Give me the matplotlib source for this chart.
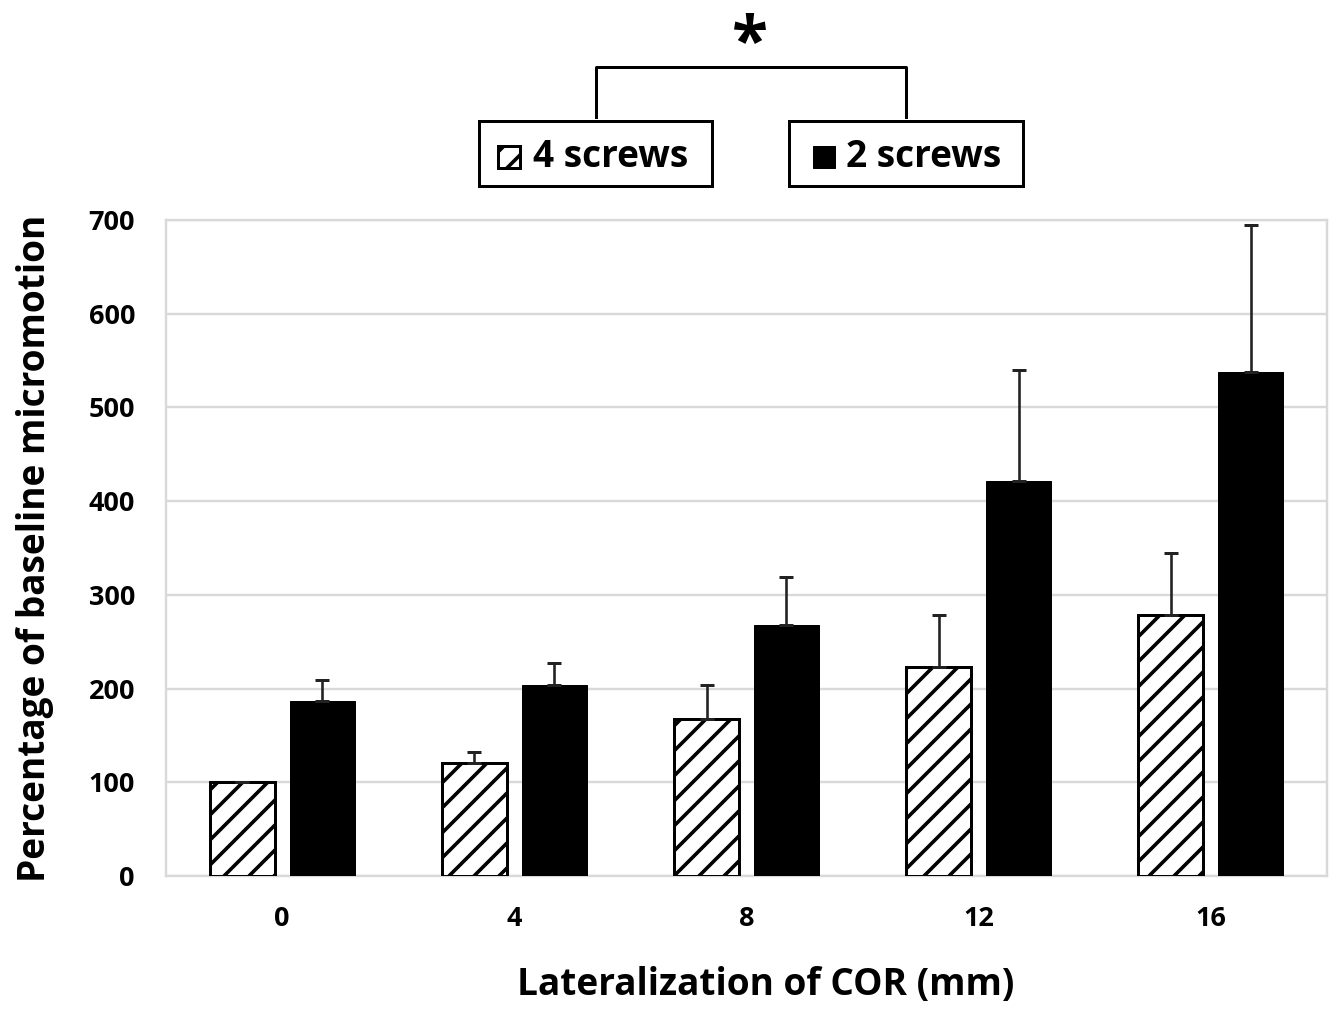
import matplotlib
matplotlib.use('Agg')
import matplotlib.pyplot as plt
import numpy as np
from matplotlib.patches import Rectangle
from matplotlib.lines import Line2D

# Data
categories = ['0', '4', '8', '12', '16']
four_screws = [100, 121, 167, 223, 278]
four_screws_err = [0, 11, 37, 56, 67]
two_screws = [187, 204, 268, 421, 538]
two_screws_err = [22, 23, 51, 119, 157]

# hatch cell is one inch, so a lower dpi gives the denser stripes of the original
DPI = 75
W, H = 1334, 1015

def pt(px):
    # pixels -> points at this dpi
    return px * 72 / DPI

plt.rcParams['font.family'] = ['Open Sans', 'DejaVu Sans']
plt.rcParams['hatch.linewidth'] = pt(3.6)

fig = plt.figure(figsize=(W / DPI, H / DPI), dpi=DPI)
ax = fig.add_axes([166 / W, 1 - 876 / H, (1327 - 166) / W, (876 - 220) / H])

x = np.arange(len(categories))
width = 0.28
offset = 0.172

ax.bar(x - offset, four_screws, width, color='white', edgecolor='black',
       linewidth=pt(3), hatch='/', zorder=3)
ax.bar(x + offset, two_screws, width, color='black', edgecolor='black',
       linewidth=pt(1), zorder=3)

# plus-only error bars, as in Excel
err_kw = dict(fmt='none', ecolor='#222222', elinewidth=pt(2.6), capsize=pt(7),
              capthick=pt(3), zorder=4)
ax.errorbar(x - offset, four_screws, yerr=[np.zeros(5), four_screws_err], **err_kw)
ax.errorbar(x + offset, two_screws, yerr=[np.zeros(5), two_screws_err], **err_kw)

ax.set_xlim(-0.5, 4.5)
ax.set_ylim(0, 700)
ax.set_yticks(range(0, 701, 100))
ax.set_xticks(x)
ax.set_xticklabels(categories)
ax.tick_params(axis='both', length=0, labelsize=pt(27))
ax.tick_params(axis='y', pad=pt(31))
ax.tick_params(axis='x', pad=pt(30))
for lab in ax.get_xticklabels() + ax.get_yticklabels():
    lab.set_fontweight('bold')
ax.grid(axis='y', color='#d9d9d9', linewidth=pt(2.4), zorder=0)
for s in ax.spines.values():
    s.set_color('#d9d9d9')
    s.set_linewidth(pt(2.4))

ax.set_ylabel('Percentage of baseline micromotion', fontsize=pt(37), fontweight='bold')
ax.yaxis.set_label_coords((54 - 166) / (1327 - 166), 0.5)
ax.set_xlabel('Lateralization of COR (mm)', fontsize=pt(37), fontweight='bold')
ax.xaxis.set_label_coords((766 - 166) / (1327 - 166), (876 - 966) / (876 - 220))

# legend boxes with significance bracket, placed in figure pixels
def fx(px):
    return px / W

def fy(py):
    return 1 - py / H

boxes = [(479, 712, '4 screws', True), (789, 1023, '2 screws', False)]
for x0, x1, label, hatched in boxes:
    fig.patches.append(Rectangle((fx(x0), fy(186)), fx(x1) - fx(x0), fy(121) - fy(186),
                                 transform=fig.transFigure, facecolor='white',
                                 edgecolor='black', linewidth=pt(3)))
    if hatched:
        fig.patches.append(Rectangle((fx(498), fy(168)), fx(22), fy(146) - fy(168),
                                     transform=fig.transFigure, facecolor='white',
                                     edgecolor='black', linewidth=pt(3), hatch='/'))
        tx = 533
    else:
        fig.patches.append(Rectangle((fx(813), fy(168)), fx(22), fy(146) - fy(168),
                                     transform=fig.transFigure, facecolor='black',
                                     edgecolor='black', linewidth=pt(1)))
        tx = 846
    fig.text(fx(tx), fy(157), label, fontsize=pt(37), fontweight='bold',
             va='center', ha='left')

fig.add_artist(Line2D([fx(596), fx(596), fx(906), fx(906)],
                      [fy(117), fy(67), fy(67), fy(117)],
                      transform=fig.transFigure, color='black', linewidth=pt(3)))
fig.text(fx(750), fy(46), '*', fontsize=pt(66), fontweight='bold', ha='center', va='center')

fig.savefig('out.png', dpi=DPI)
